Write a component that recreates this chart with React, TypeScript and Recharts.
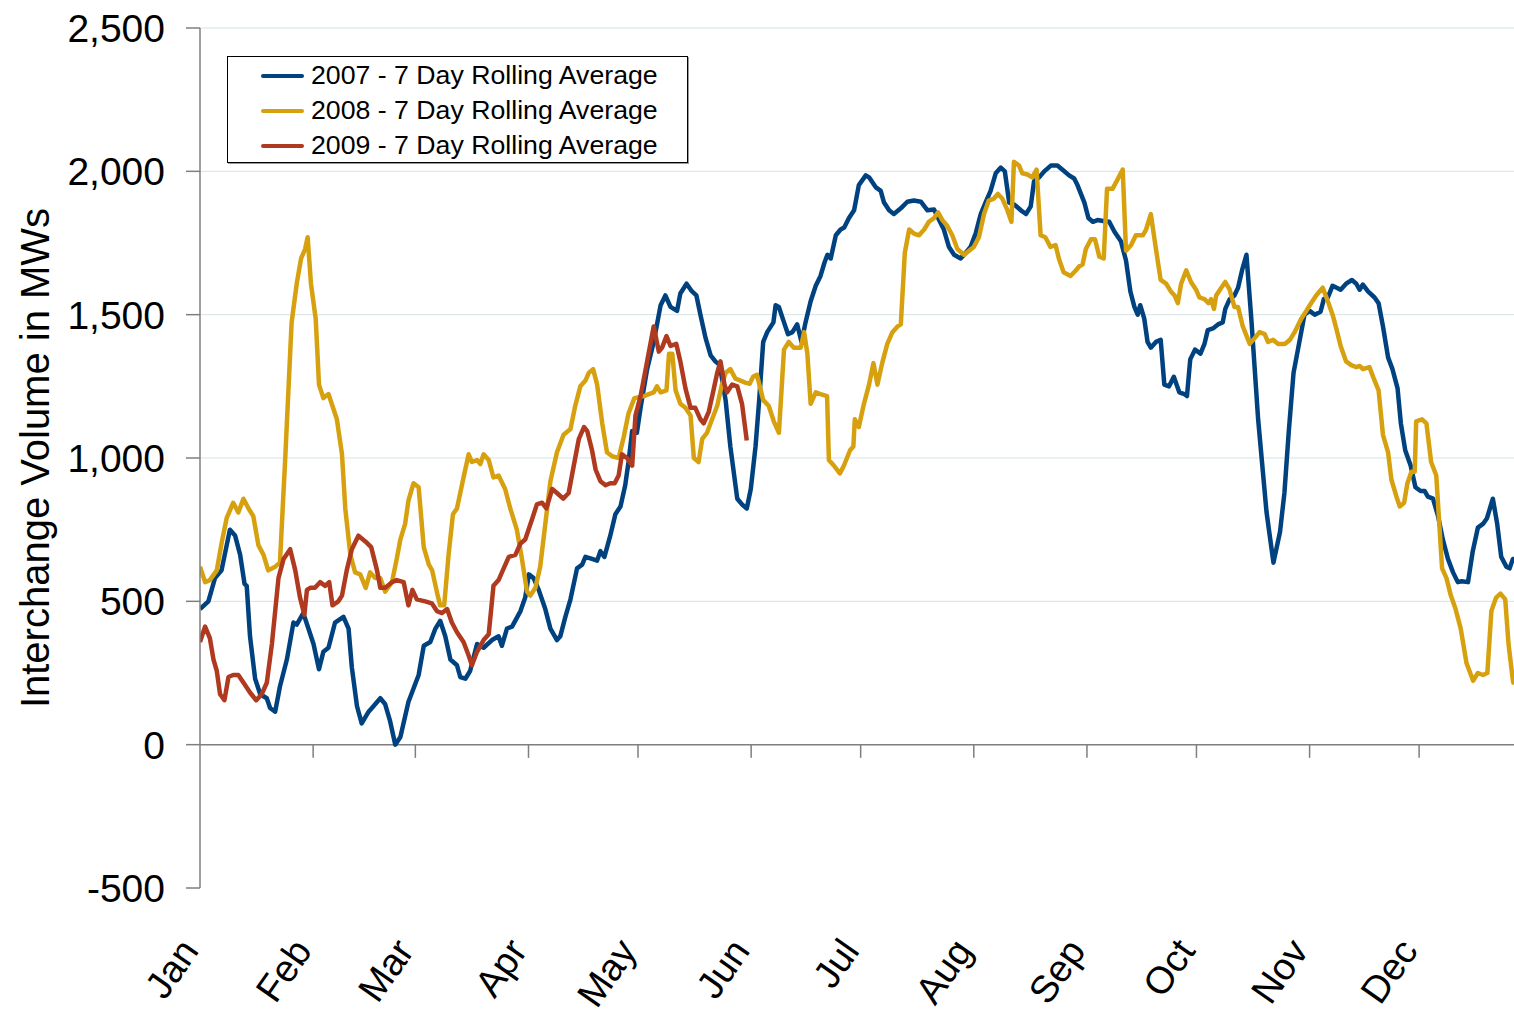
import { LineChart, Line, XAxis, YAxis, CartesianGrid, ReferenceLine, Legend } from 'recharts';

// day-of-year (approx) vs 7-day rolling average interchange volume, MW
const AVG_2007: [number, number][] = [
  [0, 473], [2.3, 500], [4.1, 581], [5.9, 608], [8.2, 750], [9.6, 730], [11, 662], [12.2, 561], [12.8, 554],
  [13.7, 378], [15.1, 230], [16.5, 176], [18.3, 162], [19.2, 128], [20.6, 115], [21.9, 203], [23.8, 297],
  [25.6, 426], [26.5, 419], [28.3, 459], [29.7, 405], [31.1, 351], [32.6, 263], [33.8, 324], [35.2, 338],
  [37, 426], [39.3, 446], [40.7, 405], [41.6, 270], [43, 135], [44.3, 74], [46.2, 115], [47.1, 128],
  [49.4, 162], [50.7, 142], [52.1, 81], [53.5, 0], [54.9, 27], [57.1, 149], [59.9, 243], [61.3, 345],
  [63.1, 358], [64.5, 405], [65.8, 432], [67.2, 378], [68.6, 297], [70.4, 277], [71.3, 236], [72.7, 230],
  [74, 257], [75.9, 351], [77.7, 338], [80, 365], [81.8, 378], [82.7, 345], [84.1, 405], [85.5, 412],
  [87.8, 466], [89.1, 513], [90.1, 594], [91.4, 581], [92.8, 540], [94.6, 473], [96, 405], [97.8, 365],
  [98.7, 378], [100.1, 446], [101.5, 507], [103.3, 615], [104.7, 628], [105.6, 655], [107.4, 648],
  [108.8, 642], [109.7, 675], [110.8, 655], [112.4, 729], [113.8, 804], [115.2, 831], [116.5, 905],
  [117.4, 986], [118.4, 1094], [119.7, 1088], [120.7, 1175], [122.5, 1310], [124.3, 1405], [126.2, 1533],
  [127.5, 1567], [128.9, 1527], [130.7, 1513], [131.6, 1574], [133.3, 1608], [134.8, 1581], [136, 1567],
  [137.1, 1500], [138.5, 1419], [139.9, 1358], [141.2, 1337], [142.4, 1324], [144, 1202], [145.3, 1040],
  [147.2, 858], [148.5, 838], [149.8, 824], [150.9, 892], [152.2, 1040], [153.2, 1202], [154.3, 1405],
  [155.4, 1439], [157.1, 1473], [157.7, 1533], [158.6, 1527], [160, 1473], [161.1, 1432], [162.3, 1439],
  [163.6, 1466], [164.8, 1405], [165.9, 1473], [167.3, 1547], [168.7, 1601], [170, 1635], [171.1, 1682],
  [171.9, 1709], [172.8, 1696], [174.2, 1777], [175.5, 1797], [176.5, 1804], [177.8, 1837], [179.2, 1864],
  [180.5, 1952], [182.4, 1986], [183.3, 1979], [185.1, 1945], [186.5, 1932], [187.4, 1891], [188.8, 1864],
  [190.1, 1851], [192, 1871], [193.8, 1894], [195.6, 1898], [197.5, 1894], [199.3, 1864], [201.1, 1867],
  [202.5, 1830], [203.8, 1797], [205.2, 1736], [206.6, 1709], [208.4, 1696], [209.8, 1716], [211.1, 1736],
  [212.5, 1783], [213.9, 1851], [215.2, 1891], [216.6, 1932], [218, 1993], [219.4, 2013], [220.5, 2000],
  [221.7, 1891], [223.1, 1884], [224.9, 1864], [226.3, 1851], [227.6, 1878], [228.5, 1965], [229.9, 1979],
  [231.3, 2000], [233.1, 2020], [234.9, 2020], [236.8, 2000], [238.1, 1986], [239.5, 1975], [240.4, 1952],
  [242.3, 1891], [243.4, 1837], [244.6, 1824], [245.9, 1830], [247.8, 1826], [249.1, 1824], [250.5, 1790],
  [252.3, 1756], [253.7, 1689], [254.9, 1581], [256, 1527], [256.9, 1500], [257.6, 1533], [258.7, 1486],
  [259.6, 1405], [260.5, 1385], [261.9, 1405], [263.2, 1412], [264.2, 1256], [265.5, 1250], [266.8, 1283],
  [268.3, 1229], [269.7, 1223], [270.4, 1216], [271.3, 1344], [272.6, 1378], [274.1, 1364], [275.2, 1398],
  [276.1, 1446], [277.5, 1452], [278.9, 1466], [280.2, 1473], [280.9, 1520], [282.1, 1554], [283.4, 1567],
  [284.4, 1594], [285.5, 1655], [286.7, 1709], [288.1, 1473], [289.9, 1135], [292.2, 811], [294.1, 635],
  [295.9, 743], [297.1, 878], [298.3, 1094], [299.6, 1297], [301.2, 1405], [302.6, 1500], [304, 1513],
  [305.4, 1500], [307, 1510], [307.9, 1554], [309, 1560], [310.3, 1601], [312.5, 1587], [314, 1608],
  [315.6, 1621], [316.8, 1608], [317.7, 1587], [318.6, 1605], [320, 1581], [321.8, 1560], [322.9, 1540],
  [324.1, 1459], [325.5, 1351], [326.7, 1310], [328.1, 1243], [329, 1121], [330.2, 1027], [331.7, 973],
  [333, 898], [334.4, 885], [335.5, 885], [336.4, 865], [337.8, 858], [339.2, 797], [340.5, 716],
  [341.9, 648], [343.3, 601], [344.6, 567], [345.7, 570], [347.4, 567], [348.7, 675], [350.1, 757],
  [351.5, 770], [352.6, 790], [354.2, 858], [355.4, 770], [356.5, 655], [357.9, 621], [358.8, 615],
  [359.7, 648], [360, 648],
];

const AVG_2008: [number, number][] = [
  [0, 621], [1.4, 567], [2.7, 574], [4.6, 608], [5.9, 702], [7.3, 790], [9.1, 844], [10.5, 810], [11.9, 858],
  [13.3, 824], [14.6, 797], [16, 696], [17.4, 662], [18.7, 608], [20.6, 621], [21.9, 635], [23.3, 986],
  [25.1, 1473], [26.5, 1608], [27.7, 1696], [28.8, 1729], [29.5, 1770], [30.4, 1608], [31.7, 1486],
  [32.6, 1256], [33.8, 1209], [35.2, 1223], [37.5, 1135], [38.9, 1013], [39.8, 824], [41.2, 662],
  [42.5, 601], [43.9, 594], [45.4, 547], [46.6, 601], [48, 581], [49.4, 581], [50.7, 534], [52.6, 567],
  [53.9, 648], [54.9, 716], [56.2, 770], [57.1, 851], [58.5, 912], [59.9, 898], [61.3, 689], [62.7, 628],
  [63.6, 608], [65, 527], [65.8, 486], [66.9, 486], [68.1, 662], [69.3, 804], [70.4, 824], [72.2, 932],
  [73.6, 1013], [74.5, 986], [75.9, 993], [76.8, 979], [77.7, 1013], [79.1, 993], [80.4, 932], [81.8, 939],
  [83.6, 892], [85, 824], [86.8, 750], [88.2, 648], [89.6, 534], [90.5, 520], [91.9, 547], [93.2, 621],
  [94.6, 770], [96, 919], [97.8, 1020], [99.6, 1081], [101.5, 1101], [102.8, 1182], [104.2, 1250],
  [105.6, 1270], [106.5, 1297], [107.7, 1310], [108.8, 1256], [110.2, 1121], [111.5, 1020], [112.9, 1006],
  [114.7, 1000], [116.1, 1074], [117.4, 1155], [119, 1209], [121.6, 1216], [123, 1223], [124.3, 1229],
  [125.2, 1250], [126.2, 1229], [127.8, 1236], [128.5, 1364], [129.4, 1364], [130.3, 1236], [131.6, 1189],
  [133, 1175], [134.4, 1148], [135.3, 1000], [136.6, 986], [137.6, 1067], [138.9, 1088], [140.3, 1135],
  [141.7, 1182], [143, 1256], [144, 1297], [145.3, 1310], [146.7, 1277], [148.1, 1270], [149.4, 1263],
  [150.6, 1259], [151.5, 1283], [152.6, 1290], [154.3, 1202], [155.8, 1182], [157.2, 1128], [158.6, 1088],
  [160, 1378], [161.3, 1405], [162.7, 1385], [164.6, 1385], [165.5, 1439], [166.4, 1364], [167.3, 1189],
  [168.7, 1229], [170, 1223], [171.8, 1216], [172.3, 993], [173.7, 973], [175.3, 946], [176.4, 973],
  [178.1, 1027], [179, 1040], [179.4, 1135], [180.5, 1108], [181.9, 1189], [183.3, 1256], [184.5, 1331],
  [185.6, 1256], [186.9, 1331], [188.3, 1398], [189.7, 1439], [191.1, 1459], [192, 1466], [193.1, 1716],
  [194.3, 1797], [195.6, 1783], [197, 1777], [198.4, 1797], [199.7, 1824], [201.1, 1837], [202.2, 1857],
  [203.4, 1830], [204.7, 1810], [206.1, 1777], [207.5, 1729], [209.3, 1709], [210.7, 1723], [212, 1736],
  [213.4, 1770], [214.8, 1851], [216.1, 1898], [217.5, 1905], [218.6, 1921], [219.8, 1905], [221, 1871],
  [222.3, 1824], [223, 2033], [224.4, 2020], [225.3, 1993], [226.7, 1989], [228, 1979], [229.2, 2006],
  [230.3, 1777], [231.6, 1770], [233, 1736], [234.4, 1743], [235.3, 1696], [236.6, 1648], [238.5, 1635],
  [240, 1655], [240.9, 1669], [241.8, 1675], [242.7, 1729], [244.1, 1763], [245.2, 1763], [246.4, 1702],
  [247.6, 1696], [248.5, 1939], [250, 1939], [251.4, 1972], [252.8, 2006], [253.7, 1723], [255.1, 1743],
  [256.4, 1777], [258.3, 1777], [259.2, 1797], [260.5, 1851], [261.9, 1729], [263.2, 1621], [264.7, 1608],
  [266, 1581], [267, 1567], [267.9, 1540], [268.8, 1608], [270.2, 1655], [271.5, 1614], [272.9, 1587],
  [273.8, 1560], [275.2, 1554], [276.3, 1540], [277, 1554], [277.8, 1520], [278.4, 1567], [279.8, 1594],
  [280.9, 1614], [282.1, 1587], [283.4, 1527], [284.4, 1527], [285.7, 1459], [287.6, 1398], [289, 1419],
  [290.3, 1439], [291.7, 1432], [292.6, 1405], [294, 1412], [295.4, 1398], [297.2, 1398], [298.6, 1412],
  [299.9, 1439], [301.7, 1486], [303.1, 1513], [304.4, 1540], [305.8, 1567], [307.6, 1594], [309, 1547],
  [310.3, 1500], [311.3, 1452], [312.5, 1391], [314, 1337], [315.4, 1324], [316.8, 1317], [317.7, 1321],
  [318.6, 1310], [320.4, 1317], [321.4, 1283], [322.9, 1236], [324.1, 1081], [325.5, 1020], [326.4, 925],
  [327.8, 865], [328.7, 831], [329.9, 844], [330.8, 912], [331.9, 952], [332.8, 952], [333.2, 1128],
  [334.8, 1135], [336, 1121], [337.3, 986], [338.7, 939], [340.3, 615], [341.5, 581], [342.7, 520],
  [344, 473], [345.4, 405], [347, 284], [348.8, 223], [350.1, 250], [351.5, 243], [352.7, 250], [353.8, 466],
  [355.1, 513], [356.3, 527], [357.6, 507], [358.5, 351], [359.7, 223], [360, 210],
];

const AVG_2009: [number, number][] = [
  [0, 358], [1.4, 412], [2.7, 372], [3.7, 297], [4.6, 257], [5.5, 176], [6.7, 155], [7.8, 236], [9.1, 243],
  [10.5, 243], [12.3, 209], [13.7, 182], [15.4, 155], [16.9, 176], [18.3, 216], [19.7, 351], [21.5, 581],
  [22.9, 648], [24.7, 682], [26.1, 608], [27.4, 513], [28.6, 453], [29.3, 540], [30.2, 547], [31.5, 547],
  [32.9, 567], [34.3, 554], [35.4, 567], [36.3, 486], [37.9, 500], [38.9, 520], [40.2, 608], [41.6, 682],
  [43.4, 729], [45.3, 709], [46.9, 689], [48.5, 608], [49.4, 547], [50.7, 547], [52.6, 567], [53.9, 574],
  [55.8, 567], [57.1, 486], [58.2, 540], [59.4, 507], [61.7, 500], [63.5, 493], [64.9, 466], [66.3, 459],
  [67.7, 473], [69, 426], [70.4, 392], [72.2, 358], [73.6, 311], [74.5, 277], [75.9, 324], [77.7, 365],
  [79.1, 385], [80.4, 554], [81.8, 574], [83.2, 615], [84.6, 655], [86.4, 662], [87.8, 702], [89.1, 716],
  [90.9, 784], [92.3, 838], [93.7, 844], [94.9, 824], [96.5, 892], [97.8, 878], [99.5, 858], [101, 878],
  [102.4, 973], [103.8, 1067], [105.2, 1108], [106.1, 1094], [107.4, 1027], [108.4, 959], [109.7, 919],
  [111.1, 905], [112.4, 912], [113.6, 912], [114.7, 939], [115.6, 1013], [117, 1000], [118.4, 973],
  [119.3, 1148], [120.7, 1216], [122.5, 1337], [124.3, 1459], [125.7, 1371], [126.6, 1385], [127.8, 1425],
  [128.9, 1391], [130.5, 1398], [131.6, 1337], [133, 1243], [134.4, 1175], [135.7, 1175], [137.1, 1135],
  [138, 1121], [139.4, 1162], [140.8, 1243], [141.7, 1297], [142.6, 1337], [143.7, 1256], [144.4, 1229],
  [145.8, 1256], [147.2, 1250], [148.5, 1189], [149.8, 1061],
];

const MONTHS = ['Jan', 'Feb', 'Mar', 'Apr', 'May', 'Jun', 'Jul', 'Aug', 'Sep', 'Oct', 'Nov', 'Dec'];
const MONTH_START_DAYS = [0, 31, 59, 90, 120, 151, 181, 212, 243, 273, 304, 334];
const Y_TICKS = [-500, 0, 500, 1000, 1500, 2000, 2500];
const GRID_VALUES = [500, 1000, 1500, 2000, 2500];

const FONT = '"Liberation Sans", Arial, Helvetica, sans-serif';
const AXIS_GREY = '#7f7f7f';

const SERIES = [
  { name: '2007 - 7 Day Rolling Average', color: '#00427f', points: AVG_2007 },
  { name: '2008 - 7 Day Rolling Average', color: '#d6a00f', points: AVG_2008 },
  { name: '2009 - 7 Day Rolling Average', color: '#b03a1f', points: AVG_2009 },
];

const toRows = (pts: [number, number][]) => pts.map(([day, mw]) => ({ day, mw }));

function MonthTick({ x, y, payload }: any) {
  const label = MONTHS[MONTH_START_DAYS.indexOf(payload.value)];
  const ax = x;
  const ay = y + 63;
  return (
    <text x={ax} y={ay} transform={`rotate(-55, ${ax}, ${ay})`} textAnchor="end"
      fontSize={38} fontFamily={FONT} fill="#000">
      {label}
    </text>
  );
}

function YTitle({ viewBox }: any) {
  const cx = viewBox.x + 35;
  const cy = viewBox.y + viewBox.height / 2;
  return (
    <text x={cx} y={cy} transform={`rotate(-90, ${cx}, ${cy})`} textAnchor="middle"
      dominantBaseline="central" fontSize={40} fontFamily={FONT} fill="#000">
      Interchange Volume in MWs
    </text>
  );
}

function LegendBox() {
  return (
    <div style={{
      width: 461, height: 107, boxSizing: 'border-box', border: '1px solid #000',
      boxShadow: '1px 1px 0 #999', background: '#fff', paddingTop: 1, fontFamily: FONT,
    }}>
      {SERIES.map((s) => (
        <div key={s.name} style={{ display: 'flex', alignItems: 'center', height: 35 }}>
          <div style={{ marginLeft: 33, width: 43, height: 4, borderRadius: 2, background: s.color }} />
          <span style={{ marginLeft: 7, fontSize: 26.7, color: '#000', whiteSpace: 'nowrap' }}>{s.name}</span>
        </div>
      ))}
    </div>
  );
}

export default function App() {
  return (
    <div style={{ position: 'absolute', left: 0, top: 0, background: '#fff' }}>
      <LineChart width={1514} height={1011} margin={{ top: 28, right: 0, bottom: 0, left: 0 }}>
        <CartesianGrid horizontal vertical={false} horizontalValues={GRID_VALUES} stroke="#d6e3e3" strokeWidth={1} />
        <XAxis dataKey="day" type="number" domain={[0, 360]} ticks={MONTH_START_DAYS} allowDataOverflow
          height={123} axisLine={false} tickLine={false} tickSize={0} tickMargin={0}
          tick={<MonthTick />} interval={0} />
        <YAxis type="number" domain={[-500, 2500]} ticks={Y_TICKS} width={200} allowDataOverflow
          axisLine={{ stroke: AXIS_GREY, strokeWidth: 1.5 }}
          tickLine={{ stroke: AXIS_GREY, strokeWidth: 1.5 }} tickSize={14} tickMargin={21}
          tickFormatter={(v: number) => v.toLocaleString('en-US')}
          tick={{ fontSize: 39, fontFamily: FONT, fill: '#000' }}
          label={<YTitle />} />
        <ReferenceLine y={0} stroke={AXIS_GREY} strokeWidth={1.5} />
        {MONTH_START_DAYS.slice(1).map((d) => (
          <ReferenceLine key={d} segment={[{ x: d, y: 0 }, { x: d, y: -46 }]} stroke={AXIS_GREY} strokeWidth={1.5} />
        ))}
        {SERIES.map((s) => (
          <Line key={s.name} data={toRows(s.points)} dataKey="mw" name={s.name} type="linear"
            stroke={s.color} strokeWidth={4.5} dot={false} activeDot={false}
            strokeLinejoin="round" isAnimationActive={false} />
        ))}
        <Legend layout="vertical" align="center" verticalAlign="middle" content={<LegendBox />}
          wrapperStyle={{ left: 227, top: 56, width: 461 }} />
      </LineChart>
    </div>
  );
}
